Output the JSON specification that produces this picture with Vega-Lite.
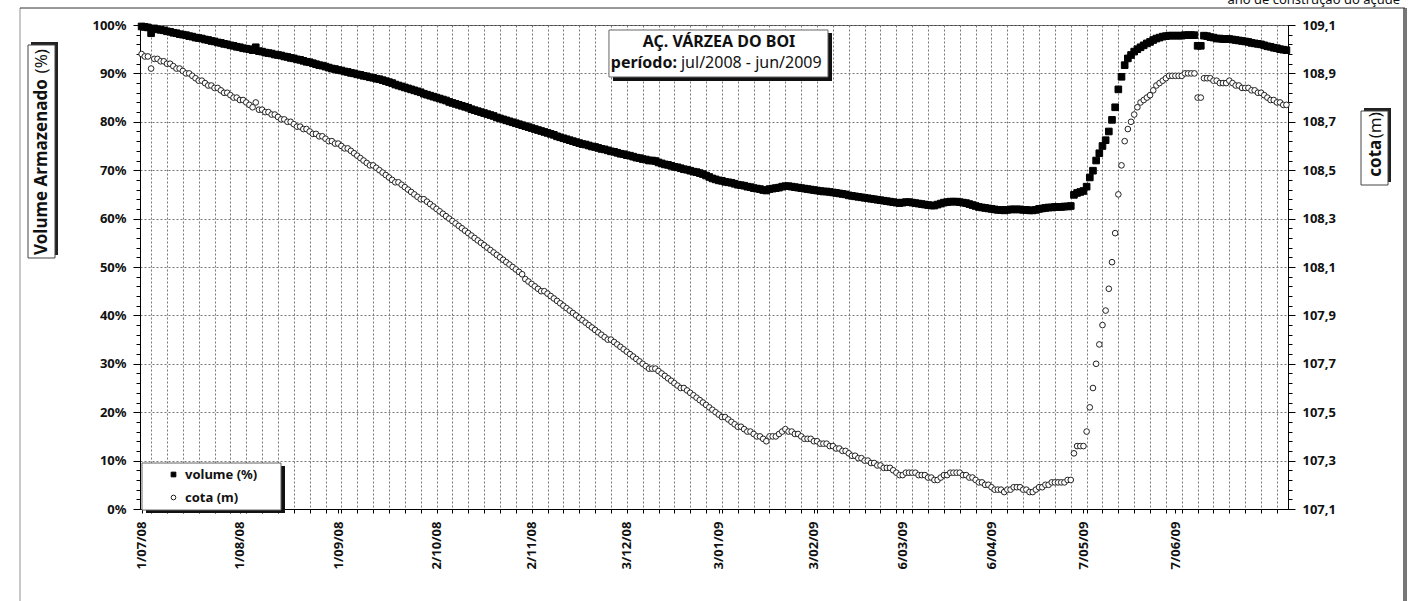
{
  "$schema": "https://vega.github.io/schema/vega-lite/v6.json",
  "width": 1148,
  "height": 484,
  "autosize": {"type": "none"},
  "padding": {"left": 140, "top": 25, "right": 135, "bottom": 92},
  "background": "white",
  "config": {
    "font": "Noto Sans",
    "view": {"stroke": "#444", "strokeWidth": 1},
    "axis": {"labelFont": "Noto Sans", "labelFontSize": 13, "labelFontWeight": "bold", "labelColor": "#111", "domainColor": "#000", "tickColor": "#000"}
  },
  "data": {"values": [
{"t":"2008-07-01","v":99.7,"c":108.98},{"t":"2008-07-02","v":99.6,"c":108.97},{"t":"2008-07-03","v":99.5,"c":108.97},{"t":"2008-07-04","v":98.3,"c":108.92},{"t":"2008-07-05","v":99.3,"c":108.96},
{"t":"2008-07-06","v":99.1,"c":108.96},{"t":"2008-07-07","v":99.0,"c":108.95},{"t":"2008-07-08","v":98.9,"c":108.95},{"t":"2008-07-09","v":98.7,"c":108.94},{"t":"2008-07-10","v":98.6,"c":108.94},
{"t":"2008-07-11","v":98.4,"c":108.93},{"t":"2008-07-12","v":98.3,"c":108.92},{"t":"2008-07-13","v":98.1,"c":108.92},{"t":"2008-07-14","v":98.0,"c":108.91},{"t":"2008-07-15","v":97.9,"c":108.90},
{"t":"2008-07-16","v":97.7,"c":108.90},{"t":"2008-07-17","v":97.6,"c":108.89},{"t":"2008-07-18","v":97.4,"c":108.88},{"t":"2008-07-19","v":97.3,"c":108.87},{"t":"2008-07-20","v":97.2,"c":108.87},
{"t":"2008-07-21","v":97.0,"c":108.86},{"t":"2008-07-22","v":96.9,"c":108.85},{"t":"2008-07-23","v":96.7,"c":108.85},{"t":"2008-07-24","v":96.6,"c":108.84},{"t":"2008-07-25","v":96.4,"c":108.84},
{"t":"2008-07-26","v":96.3,"c":108.83},{"t":"2008-07-27","v":96.1,"c":108.82},{"t":"2008-07-28","v":96.0,"c":108.82},{"t":"2008-07-29","v":95.8,"c":108.81},{"t":"2008-07-30","v":95.7,"c":108.80},
{"t":"2008-07-31","v":95.5,"c":108.80},{"t":"2008-08-01","v":95.4,"c":108.79},{"t":"2008-08-02","v":95.2,"c":108.79},{"t":"2008-08-03","v":95.1,"c":108.78},{"t":"2008-08-04","v":95.0,"c":108.77},
{"t":"2008-08-05","v":94.8,"c":108.76},{"t":"2008-08-06","v":95.4,"c":108.78},{"t":"2008-08-07","v":94.6,"c":108.75},{"t":"2008-08-08","v":94.5,"c":108.75},{"t":"2008-08-09","v":94.3,"c":108.74},
{"t":"2008-08-10","v":94.2,"c":108.74},{"t":"2008-08-11","v":94.1,"c":108.73},{"t":"2008-08-12","v":93.9,"c":108.73},{"t":"2008-08-13","v":93.8,"c":108.72},{"t":"2008-08-14","v":93.7,"c":108.71},
{"t":"2008-08-15","v":93.5,"c":108.71},{"t":"2008-08-16","v":93.4,"c":108.70},{"t":"2008-08-17","v":93.2,"c":108.70},{"t":"2008-08-18","v":93.1,"c":108.69},{"t":"2008-08-19","v":92.9,"c":108.68},
{"t":"2008-08-20","v":92.8,"c":108.68},{"t":"2008-08-21","v":92.6,"c":108.67},{"t":"2008-08-22","v":92.4,"c":108.67},{"t":"2008-08-23","v":92.3,"c":108.66},{"t":"2008-08-24","v":92.1,"c":108.65},
{"t":"2008-08-25","v":91.9,"c":108.65},{"t":"2008-08-26","v":91.7,"c":108.64},{"t":"2008-08-27","v":91.6,"c":108.64},{"t":"2008-08-28","v":91.4,"c":108.63},{"t":"2008-08-29","v":91.2,"c":108.62},
{"t":"2008-08-30","v":91.0,"c":108.62},{"t":"2008-08-31","v":90.9,"c":108.61},{"t":"2008-09-01","v":90.7,"c":108.61},{"t":"2008-09-02","v":90.6,"c":108.60},{"t":"2008-09-03","v":90.4,"c":108.59},
{"t":"2008-09-04","v":90.3,"c":108.59},{"t":"2008-09-05","v":90.1,"c":108.58},{"t":"2008-09-06","v":90.0,"c":108.57},{"t":"2008-09-07","v":89.8,"c":108.56},{"t":"2008-09-08","v":89.7,"c":108.55},
{"t":"2008-09-09","v":89.5,"c":108.54},{"t":"2008-09-10","v":89.4,"c":108.53},{"t":"2008-09-11","v":89.2,"c":108.52},{"t":"2008-09-12","v":89.1,"c":108.52},{"t":"2008-09-13","v":88.9,"c":108.51},
{"t":"2008-09-14","v":88.8,"c":108.50},{"t":"2008-09-15","v":88.6,"c":108.49},{"t":"2008-09-16","v":88.4,"c":108.48},{"t":"2008-09-17","v":88.2,"c":108.47},{"t":"2008-09-18","v":88.0,"c":108.46},
{"t":"2008-09-19","v":87.7,"c":108.45},{"t":"2008-09-20","v":87.5,"c":108.45},{"t":"2008-09-21","v":87.3,"c":108.44},{"t":"2008-09-22","v":87.1,"c":108.43},{"t":"2008-09-23","v":86.9,"c":108.42},
{"t":"2008-09-24","v":86.7,"c":108.41},{"t":"2008-09-25","v":86.5,"c":108.40},{"t":"2008-09-26","v":86.3,"c":108.39},{"t":"2008-09-27","v":86.1,"c":108.38},{"t":"2008-09-28","v":85.8,"c":108.38},
{"t":"2008-09-29","v":85.6,"c":108.37},{"t":"2008-09-30","v":85.4,"c":108.36},{"t":"2008-10-01","v":85.2,"c":108.35},{"t":"2008-10-02","v":85.0,"c":108.34},{"t":"2008-10-03","v":84.8,"c":108.33},
{"t":"2008-10-04","v":84.6,"c":108.32},{"t":"2008-10-05","v":84.4,"c":108.31},{"t":"2008-10-06","v":84.1,"c":108.30},{"t":"2008-10-07","v":83.9,"c":108.29},{"t":"2008-10-08","v":83.7,"c":108.28},
{"t":"2008-10-09","v":83.5,"c":108.27},{"t":"2008-10-10","v":83.3,"c":108.26},{"t":"2008-10-11","v":83.1,"c":108.25},{"t":"2008-10-13","v":82.9,"c":108.24},{"t":"2008-10-14","v":82.6,"c":108.23},
{"t":"2008-10-15","v":82.4,"c":108.22},{"t":"2008-10-16","v":82.2,"c":108.21},{"t":"2008-10-17","v":82.0,"c":108.20},{"t":"2008-10-18","v":81.8,"c":108.19},{"t":"2008-10-19","v":81.6,"c":108.18},
{"t":"2008-10-20","v":81.4,"c":108.17},{"t":"2008-10-21","v":81.2,"c":108.16},{"t":"2008-10-22","v":80.9,"c":108.15},{"t":"2008-10-23","v":80.7,"c":108.14},{"t":"2008-10-24","v":80.5,"c":108.13},
{"t":"2008-10-25","v":80.3,"c":108.12},{"t":"2008-10-26","v":80.1,"c":108.11},{"t":"2008-10-27","v":79.9,"c":108.10},{"t":"2008-10-28","v":79.7,"c":108.09},{"t":"2008-10-29","v":79.5,"c":108.08},
{"t":"2008-10-30","v":79.3,"c":108.07},{"t":"2008-10-31","v":79.1,"c":108.05},{"t":"2008-11-01","v":78.9,"c":108.04},{"t":"2008-11-02","v":78.7,"c":108.03},{"t":"2008-11-03","v":78.5,"c":108.02},
{"t":"2008-11-04","v":78.3,"c":108.01},{"t":"2008-11-05","v":78.1,"c":108.00},{"t":"2008-11-06","v":77.9,"c":108.00},{"t":"2008-11-07","v":77.7,"c":107.99},{"t":"2008-11-08","v":77.5,"c":107.98},
{"t":"2008-11-09","v":77.3,"c":107.97},{"t":"2008-11-10","v":77.0,"c":107.96},{"t":"2008-11-11","v":76.8,"c":107.95},{"t":"2008-11-12","v":76.6,"c":107.94},{"t":"2008-11-13","v":76.4,"c":107.93},
{"t":"2008-11-14","v":76.2,"c":107.92},{"t":"2008-11-16","v":76.0,"c":107.91},{"t":"2008-11-17","v":75.8,"c":107.90},{"t":"2008-11-18","v":75.6,"c":107.89},{"t":"2008-11-19","v":75.4,"c":107.88},
{"t":"2008-11-20","v":75.3,"c":107.87},{"t":"2008-11-21","v":75.1,"c":107.86},{"t":"2008-11-22","v":74.9,"c":107.85},{"t":"2008-11-23","v":74.8,"c":107.84},{"t":"2008-11-24","v":74.6,"c":107.83},
{"t":"2008-11-25","v":74.4,"c":107.82},{"t":"2008-11-26","v":74.3,"c":107.81},{"t":"2008-11-27","v":74.1,"c":107.80},{"t":"2008-11-28","v":73.9,"c":107.80},{"t":"2008-11-29","v":73.8,"c":107.79},
{"t":"2008-11-30","v":73.6,"c":107.78},{"t":"2008-12-01","v":73.4,"c":107.77},{"t":"2008-12-02","v":73.3,"c":107.76},{"t":"2008-12-03","v":73.1,"c":107.75},{"t":"2008-12-04","v":73.0,"c":107.74},
{"t":"2008-12-05","v":72.8,"c":107.73},{"t":"2008-12-06","v":72.6,"c":107.72},{"t":"2008-12-07","v":72.5,"c":107.71},{"t":"2008-12-08","v":72.3,"c":107.70},{"t":"2008-12-09","v":72.2,"c":107.69},
{"t":"2008-12-10","v":72.0,"c":107.68},{"t":"2008-12-11","v":72.0,"c":107.68},{"t":"2008-12-12","v":71.9,"c":107.68},{"t":"2008-12-13","v":71.6,"c":107.67},{"t":"2008-12-14","v":71.4,"c":107.66},
{"t":"2008-12-15","v":71.2,"c":107.65},{"t":"2008-12-16","v":71.1,"c":107.64},{"t":"2008-12-17","v":70.9,"c":107.63},{"t":"2008-12-18","v":70.7,"c":107.62},{"t":"2008-12-19","v":70.6,"c":107.61},
{"t":"2008-12-20","v":70.4,"c":107.60},{"t":"2008-12-21","v":70.2,"c":107.60},{"t":"2008-12-22","v":70.1,"c":107.59},{"t":"2008-12-23","v":69.9,"c":107.58},{"t":"2008-12-24","v":69.7,"c":107.57},
{"t":"2008-12-26","v":69.6,"c":107.56},{"t":"2008-12-27","v":69.4,"c":107.55},{"t":"2008-12-28","v":69.2,"c":107.54},{"t":"2008-12-29","v":68.9,"c":107.53},{"t":"2008-12-30","v":68.6,"c":107.52},
{"t":"2008-12-31","v":68.3,"c":107.51},{"t":"2009-01-02","v":68.1,"c":107.50},{"t":"2009-01-03","v":67.9,"c":107.49},{"t":"2009-01-04","v":67.8,"c":107.48},{"t":"2009-01-05","v":67.6,"c":107.48},
{"t":"2009-01-06","v":67.5,"c":107.47},{"t":"2009-01-07","v":67.4,"c":107.46},{"t":"2009-01-08","v":67.2,"c":107.45},{"t":"2009-01-09","v":67.0,"c":107.44},{"t":"2009-01-10","v":66.9,"c":107.44},
{"t":"2009-01-11","v":66.8,"c":107.43},{"t":"2009-01-12","v":66.6,"c":107.42},{"t":"2009-01-13","v":66.5,"c":107.42},{"t":"2009-01-14","v":66.3,"c":107.41},{"t":"2009-01-15","v":66.2,"c":107.40},
{"t":"2009-01-16","v":66.1,"c":107.40},{"t":"2009-01-17","v":65.9,"c":107.39},{"t":"2009-01-19","v":65.8,"c":107.38},{"t":"2009-01-20","v":66.1,"c":107.40},{"t":"2009-01-21","v":66.2,"c":107.40},
{"t":"2009-01-22","v":66.3,"c":107.40},{"t":"2009-01-23","v":66.4,"c":107.41},{"t":"2009-01-24","v":66.6,"c":107.42},{"t":"2009-01-25","v":66.7,"c":107.43},{"t":"2009-01-26","v":66.7,"c":107.42},
{"t":"2009-01-27","v":66.6,"c":107.42},{"t":"2009-01-28","v":66.5,"c":107.41},{"t":"2009-01-29","v":66.4,"c":107.41},{"t":"2009-01-30","v":66.3,"c":107.40},{"t":"2009-01-31","v":66.2,"c":107.39},
{"t":"2009-02-01","v":66.1,"c":107.39},{"t":"2009-02-02","v":66.0,"c":107.39},{"t":"2009-02-03","v":65.9,"c":107.38},{"t":"2009-02-04","v":65.8,"c":107.38},{"t":"2009-02-05","v":65.7,"c":107.37},
{"t":"2009-02-06","v":65.6,"c":107.37},{"t":"2009-02-07","v":65.6,"c":107.37},{"t":"2009-02-08","v":65.5,"c":107.36},{"t":"2009-02-09","v":65.4,"c":107.36},{"t":"2009-02-10","v":65.3,"c":107.35},
{"t":"2009-02-11","v":65.2,"c":107.35},{"t":"2009-02-12","v":65.1,"c":107.34},{"t":"2009-02-13","v":65.0,"c":107.34},{"t":"2009-02-14","v":64.8,"c":107.33},{"t":"2009-02-16","v":64.7,"c":107.32},
{"t":"2009-02-17","v":64.6,"c":107.32},{"t":"2009-02-18","v":64.5,"c":107.31},{"t":"2009-02-19","v":64.4,"c":107.31},{"t":"2009-02-20","v":64.3,"c":107.30},{"t":"2009-02-21","v":64.2,"c":107.30},
{"t":"2009-02-22","v":64.1,"c":107.29},{"t":"2009-02-25","v":64.0,"c":107.29},{"t":"2009-02-26","v":63.9,"c":107.28},{"t":"2009-02-27","v":63.8,"c":107.28},{"t":"2009-02-28","v":63.7,"c":107.27},
{"t":"2009-03-01","v":63.6,"c":107.27},{"t":"2009-03-02","v":63.5,"c":107.27},{"t":"2009-03-03","v":63.4,"c":107.26},{"t":"2009-03-04","v":63.3,"c":107.25},{"t":"2009-03-05","v":63.2,"c":107.24},
{"t":"2009-03-06","v":63.3,"c":107.24},{"t":"2009-03-07","v":63.4,"c":107.25},{"t":"2009-03-08","v":63.4,"c":107.25},{"t":"2009-03-09","v":63.3,"c":107.25},{"t":"2009-03-10","v":63.2,"c":107.25},
{"t":"2009-03-11","v":63.1,"c":107.24},{"t":"2009-03-12","v":63.0,"c":107.24},{"t":"2009-03-13","v":62.9,"c":107.24},{"t":"2009-03-14","v":62.8,"c":107.23},{"t":"2009-03-16","v":62.7,"c":107.23},
{"t":"2009-03-17","v":62.7,"c":107.22},{"t":"2009-03-18","v":62.9,"c":107.22},{"t":"2009-03-19","v":63.1,"c":107.23},{"t":"2009-03-20","v":63.3,"c":107.24},{"t":"2009-03-21","v":63.4,"c":107.24},
{"t":"2009-03-23","v":63.5,"c":107.25},{"t":"2009-03-24","v":63.5,"c":107.25},{"t":"2009-03-25","v":63.5,"c":107.25},{"t":"2009-03-26","v":63.4,"c":107.25},{"t":"2009-03-27","v":63.3,"c":107.24},
{"t":"2009-03-28","v":63.2,"c":107.24},{"t":"2009-03-30","v":63.0,"c":107.23},{"t":"2009-03-31","v":62.8,"c":107.23},{"t":"2009-04-01","v":62.6,"c":107.22},{"t":"2009-04-02","v":62.4,"c":107.21},
{"t":"2009-04-03","v":62.3,"c":107.21},{"t":"2009-04-04","v":62.2,"c":107.20},{"t":"2009-04-05","v":62.1,"c":107.20},{"t":"2009-04-06","v":62.0,"c":107.19},{"t":"2009-04-07","v":61.9,"c":107.18},
{"t":"2009-04-08","v":61.8,"c":107.18},{"t":"2009-04-09","v":61.8,"c":107.18},{"t":"2009-04-11","v":61.7,"c":107.17},{"t":"2009-04-12","v":61.8,"c":107.18},{"t":"2009-04-13","v":61.9,"c":107.18},
{"t":"2009-04-14","v":61.9,"c":107.19},{"t":"2009-04-15","v":61.9,"c":107.19},{"t":"2009-04-16","v":61.9,"c":107.19},{"t":"2009-04-17","v":61.8,"c":107.18},{"t":"2009-04-18","v":61.8,"c":107.18},
{"t":"2009-04-19","v":61.7,"c":107.17},{"t":"2009-04-20","v":61.7,"c":107.17},{"t":"2009-04-22","v":61.8,"c":107.18},{"t":"2009-04-23","v":62.0,"c":107.19},{"t":"2009-04-24","v":62.1,"c":107.19},
{"t":"2009-04-25","v":62.2,"c":107.20},{"t":"2009-04-26","v":62.3,"c":107.20},{"t":"2009-04-27","v":62.3,"c":107.21},{"t":"2009-04-28","v":62.4,"c":107.21},{"t":"2009-04-29","v":62.4,"c":107.21},
{"t":"2009-04-30","v":62.4,"c":107.21},{"t":"2009-05-01","v":62.5,"c":107.21},{"t":"2009-05-02","v":62.5,"c":107.22},{"t":"2009-05-03","v":62.6,"c":107.22},{"t":"2009-05-04","v":64.9,"c":107.33},
{"t":"2009-05-05","v":65.3,"c":107.36},{"t":"2009-05-06","v":65.5,"c":107.36},{"t":"2009-05-07","v":65.7,"c":107.36},{"t":"2009-05-08","v":66.6,"c":107.42},{"t":"2009-05-09","v":68.5,"c":107.52},
{"t":"2009-05-10","v":69.9,"c":107.60},{"t":"2009-05-11","v":72.0,"c":107.70},{"t":"2009-05-12","v":73.5,"c":107.78},{"t":"2009-05-13","v":75.0,"c":107.86},{"t":"2009-05-14","v":76.2,"c":107.92},
{"t":"2009-05-15","v":78.0,"c":108.01},{"t":"2009-05-16","v":80.4,"c":108.12},{"t":"2009-05-17","v":83.0,"c":108.24},{"t":"2009-05-18","v":86.7,"c":108.40},{"t":"2009-05-19","v":89.3,"c":108.52},
{"t":"2009-05-20","v":91.7,"c":108.62},{"t":"2009-05-21","v":93.1,"c":108.67},{"t":"2009-05-22","v":93.8,"c":108.70},{"t":"2009-05-23","v":94.5,"c":108.73},{"t":"2009-05-25","v":95.0,"c":108.76},
{"t":"2009-05-26","v":95.4,"c":108.78},{"t":"2009-05-27","v":95.8,"c":108.79},{"t":"2009-05-28","v":96.2,"c":108.80},{"t":"2009-05-29","v":96.5,"c":108.81},{"t":"2009-05-30","v":96.9,"c":108.83},
{"t":"2009-06-01","v":97.2,"c":108.85},{"t":"2009-06-02","v":97.4,"c":108.86},{"t":"2009-06-03","v":97.6,"c":108.87},{"t":"2009-06-04","v":97.7,"c":108.88},{"t":"2009-06-05","v":97.8,"c":108.89},
{"t":"2009-06-06","v":97.8,"c":108.89},{"t":"2009-06-07","v":97.8,"c":108.89},{"t":"2009-06-08","v":97.8,"c":108.89},{"t":"2009-06-09","v":97.8,"c":108.89},{"t":"2009-06-10","v":97.9,"c":108.90},
{"t":"2009-06-11","v":97.9,"c":108.90},{"t":"2009-06-12","v":97.9,"c":108.90},{"t":"2009-06-13","v":97.9,"c":108.90},{"t":"2009-06-14","v":95.7,"c":108.80},{"t":"2009-06-15","v":95.7,"c":108.80},
{"t":"2009-06-16","v":97.8,"c":108.88},{"t":"2009-06-17","v":97.7,"c":108.88},{"t":"2009-06-18","v":97.5,"c":108.88},{"t":"2009-06-19","v":97.4,"c":108.87},{"t":"2009-06-20","v":97.2,"c":108.87},
{"t":"2009-06-21","v":97.2,"c":108.86},{"t":"2009-06-22","v":97.1,"c":108.86},{"t":"2009-06-23","v":97.1,"c":108.86},{"t":"2009-06-24","v":97.1,"c":108.87},{"t":"2009-06-25","v":97.0,"c":108.86},
{"t":"2009-06-26","v":96.9,"c":108.85},{"t":"2009-06-27","v":96.8,"c":108.85},{"t":"2009-06-28","v":96.7,"c":108.84},{"t":"2009-06-29","v":96.6,"c":108.84},{"t":"2009-06-30","v":96.5,"c":108.84},
{"t":"2009-07-01","v":96.3,"c":108.83},{"t":"2009-07-02","v":96.2,"c":108.83},{"t":"2009-07-03","v":96.1,"c":108.82},{"t":"2009-07-04","v":96.0,"c":108.82},{"t":"2009-07-05","v":95.8,"c":108.81},
{"t":"2009-07-06","v":95.6,"c":108.80},{"t":"2009-07-07","v":95.5,"c":108.79},{"t":"2009-07-08","v":95.3,"c":108.79},{"t":"2009-07-09","v":95.2,"c":108.78},{"t":"2009-07-10","v":95.0,"c":108.78},
{"t":"2009-07-11","v":94.9,"c":108.77},{"t":"2009-07-12","v":94.8,"c":108.77}
  ]},
  "layer": [
    {
      "mark": {"type": "point", "filled": true, "strokeWidth": 1, "size": 44, "opacity": 1},
      "encoding": {
        "x": {"field": "t", "type": "ordinal", "scale": {"type": "point", "padding": 0.5},
          "axis": {
            "title": null,
            "values": ["2008-07-01","2008-08-01","2008-09-01","2009-01-03","2009-02-03","2009-03-06","2009-05-07","2009-06-07",
              "2008-07-04","2008-07-09","2008-07-14","2008-07-19","2008-07-24","2008-07-29","2008-08-03","2008-08-08","2008-08-13","2008-08-18","2008-08-23","2008-08-28",
              "2008-09-02","2008-09-07","2008-09-12","2008-09-17","2008-09-22","2008-09-27","2008-10-02","2008-10-07","2008-10-13","2008-10-18","2008-10-23","2008-10-28",
              "2008-11-02","2008-11-07","2008-11-12","2008-11-18","2008-11-23","2008-11-28","2008-12-03","2008-12-08","2008-12-13","2008-12-18","2008-12-23","2008-12-29",
              "2009-01-04","2009-01-09","2009-01-14","2009-01-20","2009-01-25","2009-01-30","2009-02-04","2009-02-09","2009-02-14","2009-02-20","2009-02-27",
              "2009-03-04","2009-03-09","2009-03-14","2009-03-20","2009-03-26","2009-04-01","2009-04-06","2009-04-12","2009-04-17","2009-04-23","2009-04-28",
              "2009-05-03","2009-05-08","2009-05-13","2009-05-18","2009-05-23","2009-05-29","2009-06-04","2009-06-09","2009-06-14","2009-06-19","2009-06-24","2009-06-29",
              "2009-07-04","2009-07-09"],
            "labelExpr": "indexof(['2008-07-01','2008-08-01','2008-09-01','2008-10-02','2008-11-02','2008-12-03','2009-01-03','2009-02-03','2009-03-06','2009-04-06','2009-05-07','2009-06-07'], datum.value) >= 0 ? toNumber(substring(datum.value, 8, 10)) + '/' + substring(datum.value, 5, 7) + '/' + substring(datum.value, 2, 4) : ''",
            "labelAngle": 270, "labelAlign": "right", "labelBaseline": "middle", "labelPadding": 8, "labelOverlap": false, "labelFlush": false,
            "tickSize": 4,
            "grid": true, "gridColor": "#777", "gridDash": [2, 2],
            "gridOpacity": {"condition": {"test": "indexof(['2008-07-01','2008-08-01','2008-09-01','2009-01-03','2009-02-03','2009-03-06','2009-05-07','2009-06-07'], datum.value) >= 0", "value": 0}, "value": 1}
          }},
        "y": {"field": "v", "type": "quantitative", "scale": {"domain": [0, 100], "nice": false},
          "axis": {
            "title": null,
            "values": [0,2,4,6,8,10,12,14,16,18,20,22,24,26,28,30,32,34,36,38,40,42,44,46,48,50,52,54,56,58,60,62,64,66,68,70,72,74,76,78,80,82,84,86,88,90,92,94,96,98,100],
            "labelExpr": "datum.value % 10 === 0 ? datum.value + '%' : ''",
            "labelOverlap": false, "labelPadding": 7,
            "tickSize": {"condition": {"test": "datum.value % 10 === 0", "value": 7}, "value": 4},
            "grid": true, "gridColor": "#777", "gridDash": [2, 2],
            "gridOpacity": {"condition": {"test": "datum.value % 10 === 0 && datum.value > 0", "value": 1}, "value": 0}
          }},
        "fill": {"datum": "volume (%)", "scale": {"domain": ["volume (%)", "cota (m)"], "range": ["#000", "#fff"]},
          "legend": {"title": null, "orient": "none", "legendX": 27, "legendY": 443, "padding": 0,
            "labelFontSize": 13, "labelFontWeight": "bold", "labelFont": "Noto Sans", "labelColor": "#111", "symbolSize": 22,
            "symbolStrokeWidth": 1, "rowPadding": 9, "labelOffset": 5}},
        "shape": {"datum": "volume (%)", "scale": {"domain": ["volume (%)", "cota (m)"], "range": ["square", "circle"]},
          "legend": {"title": null, "orient": "none", "legendX": 27, "legendY": 443, "padding": 0,
            "labelFontSize": 13, "labelFontWeight": "bold", "labelFont": "Noto Sans", "labelColor": "#111", "symbolSize": 22,
            "symbolStrokeWidth": 1, "rowPadding": 9, "labelOffset": 5}},
        "stroke": {"datum": "volume (%)", "scale": {"domain": ["volume (%)", "cota (m)"], "range": ["#000", "#222"]},
          "legend": {"title": null, "orient": "none", "legendX": 27, "legendY": 443, "padding": 0,
            "labelFontSize": 13, "labelFontWeight": "bold", "labelFont": "Noto Sans", "labelColor": "#111", "symbolSize": 22,
            "symbolStrokeWidth": 1, "rowPadding": 9, "labelOffset": 5}}
      }
    },
    {
      "mark": {"type": "point", "filled": true, "strokeWidth": 1, "size": 32, "opacity": 1},
      "encoding": {
        "x": {"field": "t", "type": "ordinal", "scale": {"type": "point", "padding": 0.5}, "axis": null},
        "y": {"field": "c", "type": "quantitative", "scale": {"domain": [107.1, 109.1], "nice": false, "zero": false},
          "axis": {
            "orient": "right",
            "title": null,
            "values": [107.1,107.14,107.18,107.22,107.26,107.3,107.34,107.38,107.42,107.46,107.5,107.54,107.58,107.62,107.66,107.7,107.74,107.78,107.82,107.86,107.9,107.94,107.98,108.02,108.06,108.1,108.14,108.18,108.22,108.26,108.3,108.34,108.38,108.42,108.46,108.5,108.54,108.58,108.62,108.66,108.7,108.74,108.78,108.82,108.86,108.9,108.94,108.98,109.02,109.06,109.1],
            "labelExpr": "abs(round((datum.value - 107.1) * 5) - (datum.value - 107.1) * 5) < 0.01 ? replace(format(datum.value, '.1f'), '.', ',') : ''",
            "labelOverlap": false, "labelPadding": 7,
            "tickSize": {"condition": {"test": "abs(round((datum.value - 107.1) * 5) - (datum.value - 107.1) * 5) < 0.01", "value": 7}, "value": 4},
            "grid": false
          }},
        "fill": {"datum": "cota (m)"},
        "shape": {"datum": "cota (m)"},
        "stroke": {"datum": "cota (m)"}
      }
    },
    {
      "data": {"values": [{}]},
      "layer": [
        {"mark": {"type": "rule", "stroke": "#c8c8c8", "strokeWidth": 2},
         "encoding": {"x": {"datum": -0.10453, "type": "quantitative", "scale": {"domain": [0, 1], "nice": false, "zero": false}, "axis": null},
           "y": {"datum": 103.51, "type": "quantitative", "scale": {"domain": [0, 100], "nice": false, "zero": false}, "axis": null}, "y2": {"datum": -19.01}}},
        {"mark": {"type": "rule", "stroke": "#777", "strokeWidth": 4},
         "encoding": {"x": {"datum": 1.10192, "type": "quantitative", "scale": {"domain": [0, 1], "nice": false, "zero": false}, "axis": null},
           "y": {"datum": 103.51, "type": "quantitative", "scale": {"domain": [0, 100], "nice": false, "zero": false}, "axis": null}, "y2": {"datum": -19.01}}},
        {"mark": {"type": "rule", "stroke": "#333", "strokeWidth": 1},
         "encoding": {"x": {"datum": -0.10453, "type": "quantitative", "scale": {"domain": [0, 1], "nice": false, "zero": false}, "axis": null}, "x2": {"datum": 1.10192},
           "y": {"datum": 103.51, "type": "quantitative", "scale": {"domain": [0, 100], "nice": false, "zero": false}, "axis": null}}},
        {"mark": {"type": "rect", "fill": "#111"},
         "encoding": {"x": {"datum": 0.412, "type": "quantitative", "scale": {"domain": [0, 1], "nice": false, "zero": false}, "axis": null}, "x2": {"datum": 0.6028},
           "y": {"datum": 98.35, "type": "quantitative", "scale": {"domain": [0, 100], "nice": false, "zero": false}, "axis": null}, "y2": {"datum": 88.43}}},
        {"mark": {"type": "rect", "fill": "#fff", "stroke": "#666", "strokeWidth": 1},
         "encoding": {"x": {"datum": 0.4085, "type": "quantitative", "scale": {"domain": [0, 1], "nice": false, "zero": false}, "axis": null}, "x2": {"datum": 0.5993},
           "y": {"datum": 98.97, "type": "quantitative", "scale": {"domain": [0, 100], "nice": false, "zero": false}, "axis": null}, "y2": {"datum": 89.26}}},
        {"mark": {"type": "rect", "fill": "#111"},
         "encoding": {"x": {"datum": 0.00523, "type": "quantitative", "scale": {"domain": [0, 1], "nice": false, "zero": false}, "axis": null}, "x2": {"datum": 0.12631},
           "y": {"datum": 8.88, "type": "quantitative", "scale": {"domain": [0, 100], "nice": false, "zero": false}, "axis": null}, "y2": {"datum": -0.83}}},
        {"mark": {"type": "rect", "fill": "#fff", "stroke": "#666", "strokeWidth": 1},
         "encoding": {"x": {"datum": 0.00174, "type": "quantitative", "scale": {"domain": [0, 1], "nice": false, "zero": false}, "axis": null}, "x2": {"datum": 0.12282},
           "y": {"datum": 9.5, "type": "quantitative", "scale": {"domain": [0, 100], "nice": false, "zero": false}, "axis": null}, "y2": {"datum": -0.21}}},
        {"mark": {"type": "rect", "fill": "#222"},
         "encoding": {"x": {"datum": -0.09495, "type": "quantitative", "scale": {"domain": [0, 1], "nice": false, "zero": false}, "axis": null}, "x2": {"datum": -0.07143},
           "y": {"datum": 96.49, "type": "quantitative", "scale": {"domain": [0, 100], "nice": false, "zero": false}, "axis": null}, "y2": {"datum": 52.48}}},
        {"mark": {"type": "rect", "fill": "#fff", "stroke": "#444", "strokeWidth": 1},
         "encoding": {"x": {"datum": -0.09756, "type": "quantitative", "scale": {"domain": [0, 1], "nice": false, "zero": false}, "axis": null}, "x2": {"datum": -0.07404},
           "y": {"datum": 95.87, "type": "quantitative", "scale": {"domain": [0, 100], "nice": false, "zero": false}, "axis": null}, "y2": {"datum": 51.86}}},
        {"mark": {"type": "rect", "fill": "#222"},
         "encoding": {"x": {"datum": 1.0662, "type": "quantitative", "scale": {"domain": [0, 1], "nice": false, "zero": false}, "axis": null}, "x2": {"datum": 1.08972},
           "y": {"datum": 82.85, "type": "quantitative", "scale": {"domain": [0, 100], "nice": false, "zero": false}, "axis": null}, "y2": {"datum": 67.56}}},
        {"mark": {"type": "rect", "fill": "#fff", "stroke": "#444", "strokeWidth": 1},
         "encoding": {"x": {"datum": 1.06359, "type": "quantitative", "scale": {"domain": [0, 1], "nice": false, "zero": false}, "axis": null}, "x2": {"datum": 1.08711},
           "y": {"datum": 82.23, "type": "quantitative", "scale": {"domain": [0, 100], "nice": false, "zero": false}, "axis": null}, "y2": {"datum": 66.94}}},
        {"mark": {"type": "text", "text": "AÇ. VÁRZEA DO BOI", "font": "Noto Sans", "fontSize": 16, "fontWeight": "bold", "align": "center", "baseline": "middle", "color": "#111"},
         "encoding": {"x": {"datum": 0.5044, "type": "quantitative", "scale": {"domain": [0, 1], "nice": false, "zero": false}, "axis": null},
           "y": {"datum": 96.55, "type": "quantitative", "scale": {"domain": [0, 100], "nice": false, "zero": false}, "axis": null}}},
        {"mark": {"type": "text", "text": "período:", "font": "Noto Sans", "fontSize": 16, "fontWeight": "bold", "align": "right", "baseline": "middle", "dx": -2, "color": "#111"},
         "encoding": {"x": {"datum": 0.4695, "type": "quantitative", "scale": {"domain": [0, 1], "nice": false, "zero": false}, "axis": null},
           "y": {"datum": 92.08, "type": "quantitative", "scale": {"domain": [0, 100], "nice": false, "zero": false}, "axis": null}}},
        {"mark": {"type": "text", "text": "jul/2008 - jun/2009", "font": "Noto Sans", "fontSize": 16, "fontWeight": "normal", "align": "left", "baseline": "middle", "dx": 2, "color": "#111"},
         "encoding": {"x": {"datum": 0.4695, "type": "quantitative", "scale": {"domain": [0, 1], "nice": false, "zero": false}, "axis": null},
           "y": {"datum": 92.08, "type": "quantitative", "scale": {"domain": [0, 100], "nice": false, "zero": false}, "axis": null}}},
        {"mark": {"type": "text", "text": "Volume Armazenado", "font": "Noto Sans", "fontSize": 17, "fontWeight": "bold", "angle": 270, "align": "left", "baseline": "middle", "color": "#111"},
         "encoding": {"x": {"datum": -0.08537, "type": "quantitative", "scale": {"domain": [0, 1], "nice": false, "zero": false}, "axis": null},
           "y": {"datum": 52.48, "type": "quantitative", "scale": {"domain": [0, 100], "nice": false, "zero": false}, "axis": null}}},
        {"mark": {"type": "text", "text": "(%)", "font": "Noto Sans", "fontSize": 17, "fontWeight": "normal", "angle": 270, "align": "left", "baseline": "middle", "color": "#111"},
         "encoding": {"x": {"datum": -0.08537, "type": "quantitative", "scale": {"domain": [0, 1], "nice": false, "zero": false}, "axis": null},
           "y": {"datum": 90.0, "type": "quantitative", "scale": {"domain": [0, 100], "nice": false, "zero": false}, "axis": null}}},
        {"mark": {"type": "text", "text": "cota", "font": "Noto Sans", "fontSize": 17, "fontWeight": "bold", "angle": 270, "align": "left", "baseline": "middle", "color": "#111"},
         "encoding": {"x": {"datum": 1.0763, "type": "quantitative", "scale": {"domain": [0, 1], "nice": false, "zero": false}, "axis": null},
           "y": {"datum": 68.66, "type": "quantitative", "scale": {"domain": [0, 100], "nice": false, "zero": false}, "axis": null}}},
        {"mark": {"type": "text", "text": "(m)", "font": "Noto Sans", "fontSize": 17, "fontWeight": "normal", "angle": 270, "align": "left", "baseline": "middle", "color": "#111"},
         "encoding": {"x": {"datum": 1.0763, "type": "quantitative", "scale": {"domain": [0, 1], "nice": false, "zero": false}, "axis": null},
           "y": {"datum": 76.59, "type": "quantitative", "scale": {"domain": [0, 100], "nice": false, "zero": false}, "axis": null}}},
        {"mark": {"type": "text", "text": "ano de construção do açude", "font": "Noto Sans", "fontSize": 13, "fontWeight": "normal", "align": "right", "baseline": "alphabetic", "color": "#111"},
         "encoding": {"x": {"datum": 1.0976, "type": "quantitative", "scale": {"domain": [0, 1], "nice": false, "zero": false}, "axis": null},
           "y": {"datum": 104.24, "type": "quantitative", "scale": {"domain": [0, 100], "nice": false, "zero": false}, "axis": null}}}
      ]
    }
  ],
  "resolve": {"scale": {"x": "independent", "y": "independent"}}
}
